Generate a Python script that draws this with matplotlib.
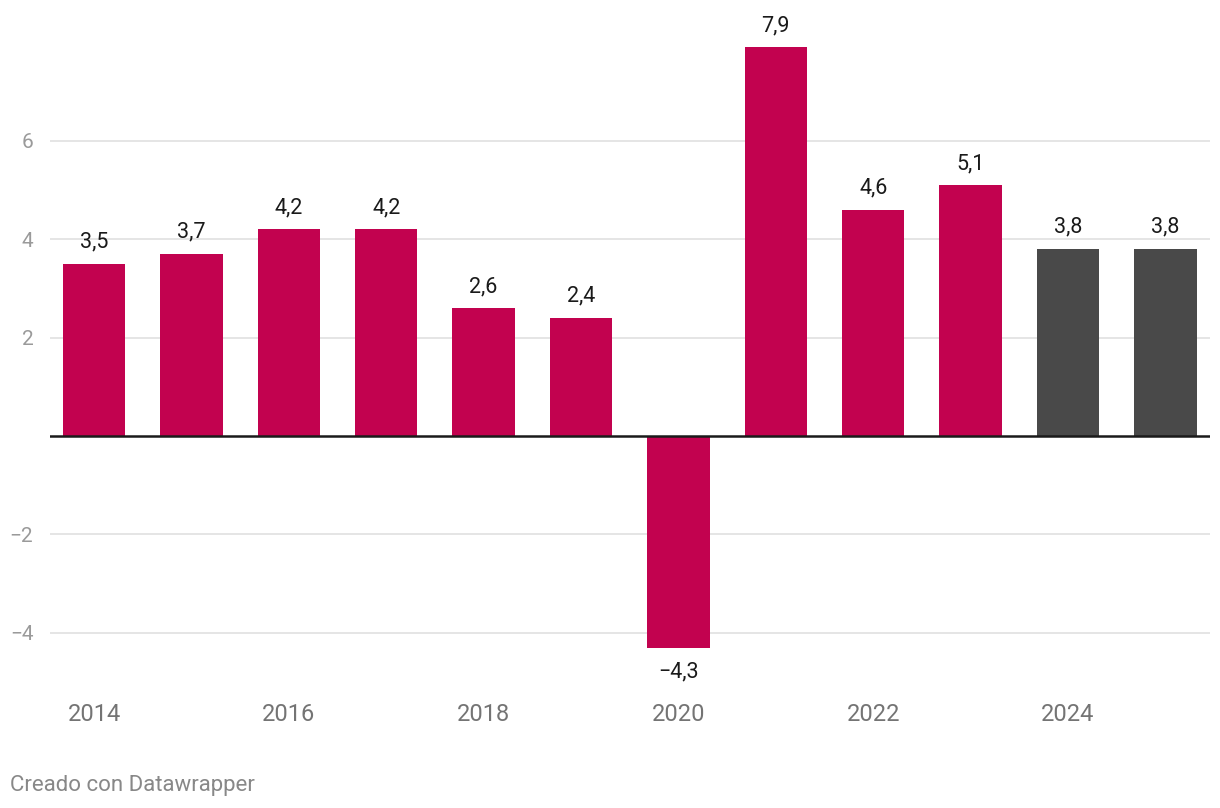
import matplotlib.pyplot as plt
import numpy as np

plt.rcParams['font.family'] = ['Roboto', 'DejaVu Sans']

# Datos
years = [2014, 2015, 2016, 2017, 2018, 2019, 2020, 2021, 2022, 2023, 2024, 2025]
growth = [3.5, 3.7, 4.2, 4.2, 2.6, 2.4, -4.3, 7.9, 4.6, 5.1, 3.8, 3.8]
forecast = [False] * 10 + [True, True]
year_ticks = [2014, 2016, 2018, 2020, 2022, 2024]
y_ticks = [-4, -2, 2, 4, 6]

RED = "#c2024f"
DARK = "#494949"

fig = plt.figure(figsize=(12.2, 8.08), dpi=100)
ax = fig.add_axes([50 / 1220, 1 - 691.8 / 808, 1160 / 1220, (691.8 - 12.9) / 808])

x = np.arange(len(years))
colors = [DARK if f else RED for f in forecast]
ax.bar(x, growth, width=0.64, color=colors, zorder=2)

# etiquetas de valores
for xi, v in zip(x, growth):
    txt = f"{v:.1f}".replace(".", ",").replace("-", "\u2212")
    if v >= 0:
        ax.annotate(txt, (xi, v), xytext=(0, 8), textcoords="offset points",
                    ha="center", va="bottom", fontsize=15.5, color="#1a1a1a")
    else:
        ax.annotate(txt, (xi, v), xytext=(0, -10), textcoords="offset points",
                    ha="center", va="top", fontsize=15.5, color="#1a1a1a")

ax.set_xlim(-0.452, 11.458)
ax.set_ylim(-5.2, 8.6)

for yv in y_ticks:
    ax.axhline(yv, color="#e3e3e3", lw=1.3, zorder=1)
ax.axhline(0, color="#1a1a1a", lw=1.8, zorder=3)

ax.set_yticks(y_ticks)
ax.set_yticklabels([str(t).replace("-", "\u2212") for t in y_ticks])
ax.set_xticks([years.index(y) for y in year_ticks])
ax.set_xticklabels([str(y) for y in year_ticks])
ax.tick_params(axis="y", length=0, pad=12, labelsize=15, labelcolor="#9a9a9a")
ax.tick_params(axis="x", length=0, pad=8, labelsize=17, labelcolor="#747474")

for s in ax.spines.values():
    s.set_visible(False)

fig.text(10 / 1220, 1 - 785 / 808, "Creado con Datawrapper", fontsize=16,
         color="#888888", ha="left", va="center")

fig.savefig("out.png", dpi=100)
